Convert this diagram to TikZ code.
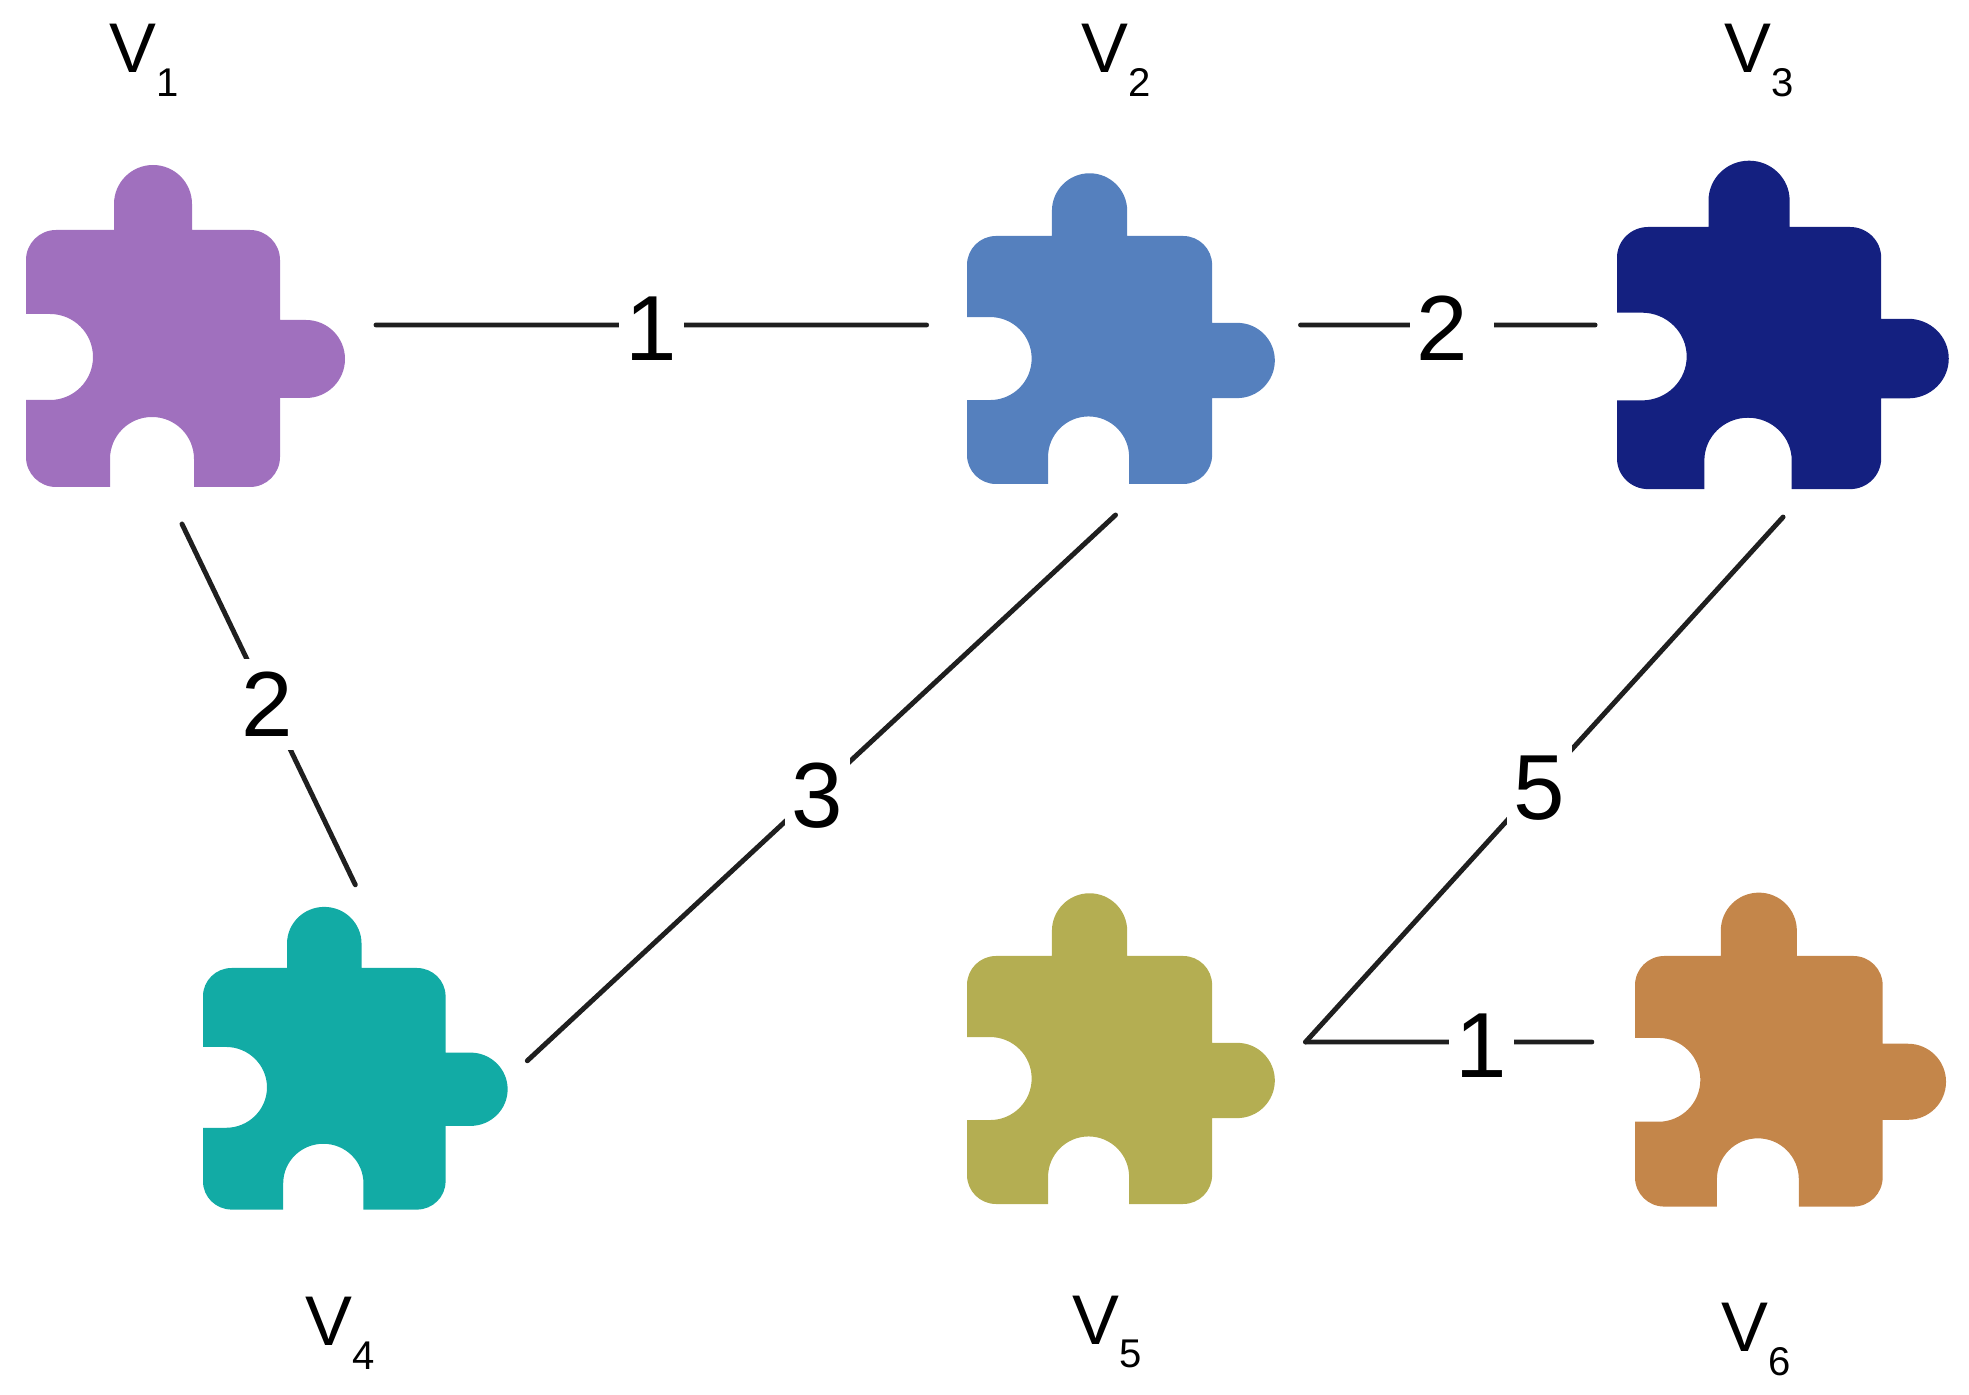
\documentclass[tikz,border=0pt]{standalone}
\usepackage{fontspec}
\setmainfont{Liberation Sans}
\definecolor{plum}{HTML}{A070BE}
\definecolor{steel}{HTML}{5580BE}
\definecolor{navy}{HTML}{142080}
\definecolor{teal}{HTML}{12ABA5}
\definecolor{olive}{HTML}{B4AE52}
\definecolor{ochre}{HTML}{C4864A}
\newcommand{\vname}[1]{\fontsize{20}{20}\selectfont V\raisebox{-6.8pt}{\fontsize{11.4}{11.4}\selectfont #1}}
\begin{document}
\begin{tikzpicture}[x=0.01cm,y=-0.01cm,
  puzzlepiece/.pic={
    \fill[pic actions] (30,0) -- (88,0) -- (88,-26)
      arc[start angle=180,end angle=360,radius=39] -- (166,0) -- (224,0)
      arc[start angle=270,end angle=360,radius=30] -- (254,90) -- (280,90)
      arc[start angle=270,end angle=450,radius=39] -- (254,168) -- (254,227)
      arc[start angle=0,end angle=90,radius=30] -- (168,257) -- (168,229)
      arc[start angle=0,end angle=-180,radius=42] -- (84,257) -- (30,257)
      arc[start angle=90,end angle=180,radius=30] -- (0,170) -- (24,170)
      arc[start angle=90,end angle=-90,radius=43] -- (0,84) -- (0,30)
      arc[start angle=180,end angle=270,radius=30] -- cycle;
    \node[inner sep=0pt,minimum width=70pt,minimum height=70pt] (body) at (127,128.5) {};
  },
  vertex/.style={anchor=base,inner sep=0pt},
  link/.style={line width=1.4pt,draw=black!88,line cap=round},
  weight/.style={fill=white,inner xsep=2pt,inner ysep=3.8pt,yshift=-1pt,
                 font=\fontsize{26.3}{26.3}\selectfont}]
  \useasboundingbox (0,0) rectangle (1969,1395);
  \pic[fill=plum] (v1) at (26,230) {puzzlepiece};
  \pic[fill=steel,scale=0.965] (v2) at (967,236) {puzzlepiece};
  \pic[fill=navy,xscale=1.04,yscale=1.02] (v3) at (1617,227) {puzzlepiece};
  \pic[fill=teal,xscale=0.955,yscale=0.94] (v4) at (203,968) {puzzlepiece};
  \pic[fill=olive,scale=0.965] (v5) at (967,956) {puzzlepiece};
  \pic[fill=ochre,scale=0.975] (v6) at (1635,956) {puzzlepiece};
  \node[vertex] (name1) at (144,73) {\vname{1}};
  \node[vertex] (name2) at (1116,73) {\vname{2}};
  \node[vertex] (name3) at (1759,73) {\vname{3}};
  \node[vertex] (name4) at (340,1346) {\vname{4}};
  \node[vertex] (name5) at (1107,1344) {\vname{5}};
  \node[vertex] (name6) at (1756,1352) {\vname{6}};
  \draw[link] ([shift={(223,-33.5)}]v1body.center) -- ([shift={(-163,-35)}]v2body.center)
    node[weight,midway] (w12) {1};
  \draw[link] ([shift={(211,-35)}]v2body.center) -- ([shift={(-154,-33.07)}]v3body.center)
    node[weight,pos=0.514] (w23) {2\kern5.3pt};
  \draw[link] ([shift={(29,165.5)}]v1body.center) -- ([shift={(31,-204)}]v4body.center)
    node[weight,pos=0.49] (w14) {2};
  \draw[link] ([shift={(26,155)}]v2body.center) -- ([shift={(203,-28)}]v4body.center)
    node[weight,pos=0.507] (w24) {3};
  \draw[link] ([shift={(34,159)}]v3body.center) -- ([shift={(216,-38)}]v5body.center)
    node[weight,pos=0.51] (w35) {5};
  \draw[link] ([shift={(216,-38)}]v5body.center) -- ([shift={(-167,-39.3)}]v6body.center)
    node[weight,pos=0.615] (w56) {1};
\end{tikzpicture}
\end{document}
